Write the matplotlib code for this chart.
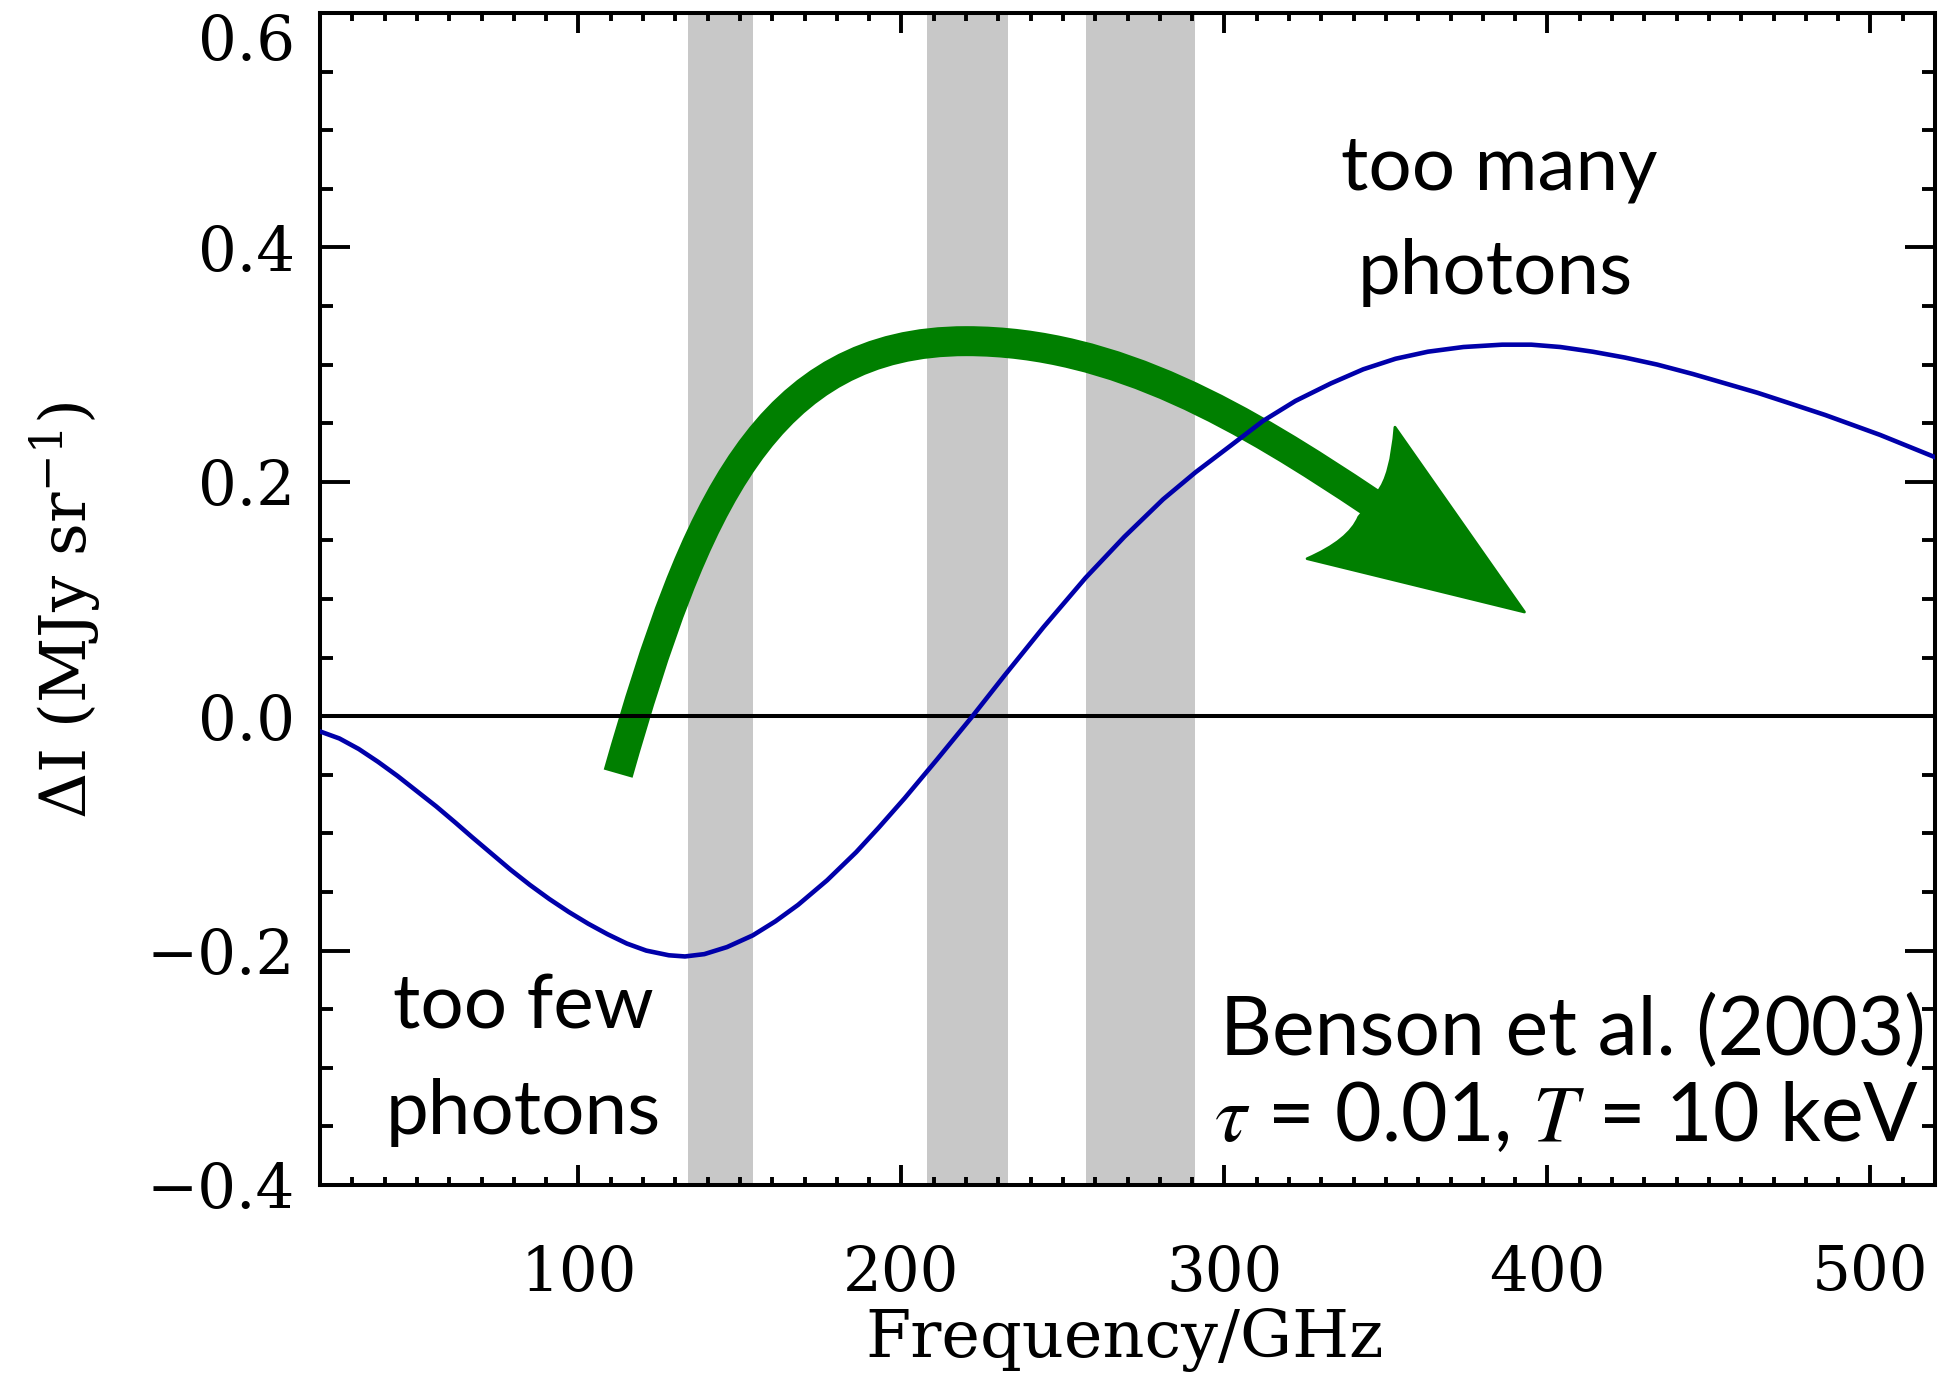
import numpy as np
import matplotlib
matplotlib.use('Agg')
from matplotlib import pyplot as plt
from matplotlib.path import Path
from matplotlib.patches import PathPatch

# SZ spectrum (GHz, MJy/sr)
freq = [20, 26, 32, 38, 44, 50, 56, 62, 67, 73, 79, 85, 91, 97, 103, 109,
        115, 121, 128, 133, 139, 146, 154, 161, 168, 177, 186, 193, 201, 211,
        222, 232, 244, 257, 269, 281, 291, 302, 312, 322, 333, 343, 353, 363,
        374, 386, 395, 404, 414, 424, 434, 445, 455, 465, 475, 486, 503, 520]
dI = [-0.013, -0.019, -0.028, -0.039, -0.051, -0.064, -0.077, -0.091, -0.103,
      -0.117, -0.131, -0.144, -0.156, -0.167, -0.177, -0.186, -0.194, -0.200,
      -0.204, -0.205, -0.203, -0.197, -0.187, -0.175, -0.161, -0.140, -0.116,
      -0.095, -0.070, -0.037, 0.000, 0.035, 0.076, 0.118, 0.153, 0.185,
      0.208, 0.231, 0.252, 0.269, 0.284, 0.296, 0.305, 0.311, 0.315, 0.317,
      0.317, 0.315, 0.311, 0.306, 0.300, 0.292, 0.284, 0.276, 0.267, 0.257,
      0.240, 0.221]

# observing bands (GHz)
band_lo = [134, 208, 257]
band_hi = [154, 233, 291]

xticks = [100, 200, 300, 400, 500]
yticks = [-0.4, -0.2, 0.0, 0.2, 0.4, 0.6]

green = '#007f00'
serif = 'DejaVu Serif'
sans = 'Lato'

fig = plt.figure(figsize=(19.54, 13.87), dpi=100)
ax = fig.add_axes([0.16377, 0.14564, 0.82651, 0.84499])

for lo, hi in zip(band_lo, band_hi):
    ax.axvspan(lo, hi, color='#c8c8c8', lw=0, zorder=1)

# green arrow: shaft is two cubic beziers, head is a filled shape
shaft = Path([(112.3, -0.049), (136.0, 0.180), (158.2, 0.320), (220.1, 0.320),
              (266.6, 0.320), (306.7, 0.2535), (345.3, 0.1824)],
             [Path.MOVETO] + [Path.CURVE4] * 6)
ax.add_patch(PathPatch(shaft, facecolor='none', edgecolor=green, lw=21.6,
                       capstyle='butt', zorder=2))
head = Path([(347.4, 0.191), (351.6, 0.205), (352.8, 0.2466), (392.9, 0.0889),
             (325.6, 0.1344), (338.6, 0.150), (341.6, 0.170), (344.0, 0.178),
             (347.4, 0.191)],
            [Path.MOVETO, Path.CURVE3, Path.CURVE3, Path.LINETO, Path.LINETO,
             Path.CURVE3, Path.CURVE3, Path.LINETO, Path.CLOSEPOLY])
ax.add_patch(PathPatch(head, facecolor=green, edgecolor=green, lw=2,
                       joinstyle='round', zorder=2))

ax.axhline(0, color='black', lw=2.9, zorder=3)
ax.plot(freq, dI, color='#0000aa', lw=3.3, zorder=4, solid_joinstyle='round')

ax.set_xlim(20, 520)
ax.set_ylim(-0.4, 0.6)
ax.set_xticks(xticks)
ax.set_xticks(np.arange(30, 520, 10), minor=True)
ax.set_yticks(yticks)
ax.set_yticks(np.arange(-0.35, 0.6, 0.05), minor=True)
ax.set_xticklabels([str(t) for t in xticks], family=serif, fontsize=44)
ax.set_yticklabels(['\u22120.4', '\u22120.2', '0.0', '0.2', '0.4', '0.6'],
                   family=serif, fontsize=44)
ax.get_yticklabels()[-1].set_va('top')

ax.tick_params(which='both', direction='in', top=True, right=True, width=2.8)
ax.tick_params(axis='x', which='major', length=14.4, pad=42)
ax.tick_params(axis='x', which='minor', length=6.1)
ax.tick_params(axis='y', which='major', length=21.6, pad=18)
ax.tick_params(axis='y', which='minor', length=9.4)
for s in ax.spines.values():
    s.set_linewidth(2.9)

ax.set_xlabel('Frequency/GHz', family=serif, fontsize=47, va='center')
ax.xaxis.set_label_coords(0.498, -0.132)
ax.set_ylabel(r'$\Delta$I (MJy sr$^{-1}$)', family=serif, fontsize=46,
              va='center', math_fontfamily='dejavuserif')
ax.yaxis.set_label_coords(-0.158, 0.49)

ax.text(385, 0.467, 'too many', family=sans, fontsize=55, ha='center', va='center')
ax.text(384, 0.379, 'photons', family=sans, fontsize=55, ha='center', va='center')
ax.text(83, -0.248, 'too few', family=sans, fontsize=55, ha='center', va='center')
ax.text(83, -0.338, 'photons', family=sans, fontsize=55, ha='center', va='center')
ax.text(517, -0.269, 'Benson et al. (2003)', family=sans, fontsize=58,
        ha='right', va='center')
ax.text(515, -0.343, r'$\tau$ = 0.01, $T$ = 10 keV', family=sans, fontsize=58,
        ha='right', va='center', math_fontfamily='stix')

fig.savefig('out.png', dpi=100)
